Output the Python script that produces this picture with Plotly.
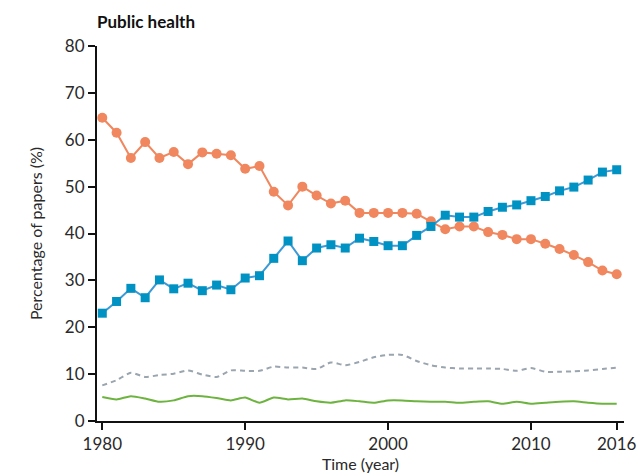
import plotly.graph_objects as go

years = list(range(1980, 2017))

# Share of public-health papers by category (%), 1980-2016
orange_vals = [64.7, 61.5, 56.1, 59.5, 56.1, 57.4, 54.8, 57.3, 57.0, 56.7,
               53.8, 54.4, 48.9, 46.0, 50.0, 48.1, 46.4, 47.0, 44.4, 44.4,
               44.4, 44.4, 44.2, 42.6, 40.9, 41.5, 41.5, 40.3, 39.7, 38.8,
               38.8, 37.8, 36.7, 35.4, 33.9, 32.1, 31.3]
blue_vals = [23.0, 25.5, 28.3, 26.3, 30.1, 28.2, 29.4, 27.8, 29.0, 28.0,
             30.5, 31.0, 34.7, 38.4, 34.2, 36.9, 37.6, 36.9, 39.0, 38.3,
             37.4, 37.4, 39.6, 41.5, 43.9, 43.5, 43.5, 44.7, 45.6, 46.1,
             47.0, 47.9, 49.1, 49.9, 51.4, 53.1, 53.6]
grey_vals = [7.6, 8.7, 10.3, 9.4, 9.8, 10.1, 10.8, 9.9, 9.4, 10.8,
             10.7, 10.7, 11.6, 11.4, 11.4, 11.1, 12.5, 11.9, 12.6, 13.6,
             14.1, 14.1, 12.8, 11.9, 11.4, 11.2, 11.2, 11.2, 11.1, 10.7,
             11.3, 10.5, 10.5, 10.6, 10.8, 11.1, 11.4]
green_vals = [5.1, 4.6, 5.3, 4.8, 4.1, 4.4, 5.3, 5.3, 4.9, 4.4,
              5.0, 3.9, 5.0, 4.6, 4.8, 4.2, 3.9, 4.4, 4.2, 3.9,
              4.4, 4.4, 4.2, 4.1, 4.1, 3.9, 4.1, 4.2, 3.7, 4.1,
              3.7, 3.9, 4.1, 4.2, 3.9, 3.7, 3.7]

x_ticks = [1980, 1990, 2000, 2010, 2016]
y_ticks = list(range(0, 81, 10))

FONT = "Lato, 'Open Sans', sans-serif"
TEXT = "#2a2a2a"

fig = go.Figure()

fig.add_trace(go.Scatter(
    x=years, y=grey_vals, mode="lines",
    line=dict(color="#9AA5AF", width=2, dash="5px,4px", shape="spline", smoothing=0.6),
    cliponaxis=False, showlegend=False, hoverinfo="skip"))
fig.add_trace(go.Scatter(
    x=years, y=green_vals, mode="lines",
    line=dict(color="#6DB33F", width=2, shape="spline", smoothing=0.6),
    cliponaxis=False, showlegend=False, hoverinfo="skip"))
fig.add_trace(go.Scatter(
    x=years, y=orange_vals, mode="lines+markers",
    line=dict(color="#F0875E", width=2),
    marker=dict(symbol="circle", size=10, color="#F0875E"),
    cliponaxis=False, showlegend=False))
fig.add_trace(go.Scatter(
    x=years, y=blue_vals, mode="lines+markers",
    line=dict(color="#3E9AD6", width=2),
    marker=dict(symbol="square", size=9, color="#0092C2"),
    cliponaxis=False, showlegend=False))

fig.update_layout(
    width=641, height=473,
    margin=dict(l=97, r=17, t=46, b=52, autoexpand=False),
    paper_bgcolor="white", plot_bgcolor="white",
    font=dict(family=FONT, color=TEXT, size=17),
    title=dict(text="<b>Public health</b>", x=97 / 641, xanchor="left",
               y=1 - 22 / 473, yanchor="middle",
               font=dict(family=FONT, size=17, color="#111111")),
)

fig.update_xaxes(
    range=[1979.63, 2016.51], tickvals=x_ticks, automargin=False,
    ticks="outside", ticklen=7, tickwidth=2, tickcolor="#111111",
    showline=True, linecolor="#111111", linewidth=2,
    showgrid=False, zeroline=False,
    tickfont=dict(size=17, color=TEXT),
    title=dict(text="Time (year)", font=dict(size=16, color=TEXT), standoff=1),
)
fig.update_yaxes(
    range=[0, 80], tickvals=y_ticks, automargin=False,
    ticks="outside", ticklen=7, tickwidth=2, tickcolor="#111111",
    showline=True, linecolor="#111111", linewidth=2,
    showgrid=False, zeroline=False,
    tickfont=dict(size=17, color=TEXT),
    title=dict(text="Percentage of papers (%)", font=dict(size=16, color=TEXT), standoff=18),
)

fig.write_html("out.html")
